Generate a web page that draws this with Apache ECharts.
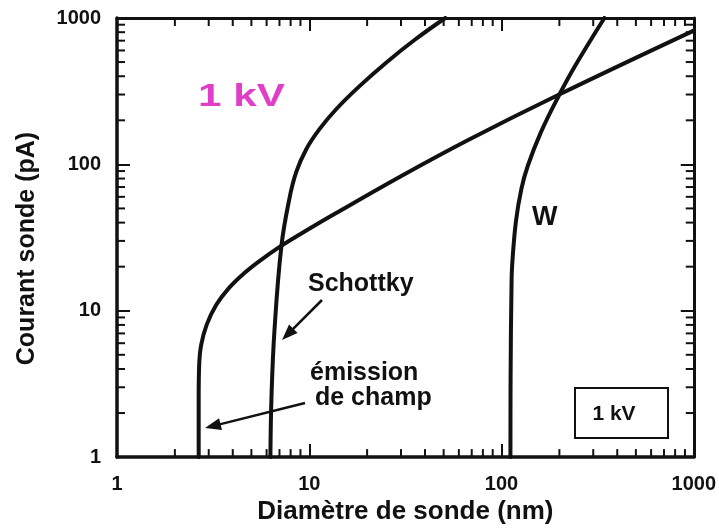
<!DOCTYPE html>
<html>
<head>
<meta charset="utf-8">
<script src="https://cdn.jsdelivr.net/npm/echarts@6/dist/echarts.min.js"></script>
<style>
  html, body { margin: 0; padding: 0; background: #fff; }
  #chart { width: 719px; height: 530px; }
</style>
</head>
<body>
<div id="chart"></div>
<script>
// Probe diameter (nm) vs probe current (pA) at 1 kV for three electron sources.
const fieldEmissionDiameter = [2.66, 2.66, 2.676, 2.741, 2.926, 3.278, 3.818, 4.583, 5.483, 7.074, 8.875, 13.8, 30.3, 67.5, 197, 1000];
const fieldEmissionCurrent  = [1, 2.56, 4.28, 5.85, 8.0, 10.93, 14.28, 18.03, 21.75, 27.5, 33.06, 46.5, 83.7, 147.4, 297.8, 820];

const schottkyDiameter = [6.28, 6.36, 6.59, 7.16, 7.88, 8.56, 9.65, 11.3, 13.8, 18.2, 25.1, 35.4, 51];
const schottkyCurrent  = [1, 2.56, 7.28, 27.5, 58.2, 88.8, 127, 174, 238, 341, 495, 710, 1000];

const tungstenDiameter = [111.3, 111.5, 112.7, 113.6, 118.8, 126.9, 136.9, 160.4, 197.7, 240.4, 342.9];
const tungstenCurrent  = [1, 3.49, 14.3, 20.4, 40.6, 68, 97.5, 166, 291, 466, 1000];

// Axis ranges and intermediate (minor) log ticks
const axisMin = 1, axisMax = 1000;
const minorTicks = [2, 3, 4, 5, 6, 7, 8, 9, 20, 30, 40, 50, 60, 70, 80, 90, 200, 300, 400, 500, 600, 700, 800, 900];

const INK = '#111';
const FONT = '"Liberation Sans", Arial, Helvetica, sans-serif';

function toPairs(xs, ys) { return xs.map((x, i) => [x, ys[i]]); }

const chart = echarts.init(document.getElementById('chart'), null, { renderer: 'canvas' });

function frameAxis(extra) {
  return Object.assign({
    type: 'log', logBase: 10, min: axisMin, max: axisMax,
    axisLine: { show: true, onZero: false, lineStyle: { color: INK, width: 3.5 } },
    axisTick: { show: true, inside: true, length: 13, lineStyle: { color: INK, width: 2 } },
    splitLine: { show: false },
    minorTick: { show: false }
  }, extra);
}

const tickLabel = {
  color: INK, fontFamily: FONT, fontWeight: 'bold', fontSize: 20,
  formatter: (v) => String(Math.round(v))
};

function curve(name, xs, ys) {
  return {
    type: 'line', name: name, data: toPairs(xs, ys),
    xAxisIndex: 0, yAxisIndex: 0,
    showSymbol: false, smooth: 0.4, silent: true,
    lineStyle: { color: INK, width: 4, cap: 'round', join: 'round' },
    z: 5
  };
}

// Short inward ticks at 2..9 of every decade, on all four sides
function minorTickSeries(dim) {
  return {
    type: 'custom', xAxisIndex: 0, yAxisIndex: 0, silent: true, clip: false, z: 4,
    data: minorTicks.map(v => dim === 'x' ? [v, axisMin] : [axisMin, v]),
    renderItem: function (params, api) {
      const cs = params.coordSys;
      const len = 8;
      const st = { stroke: INK, lineWidth: 2 };
      if (dim === 'x') {
        const px = api.coord([api.value(0), axisMin])[0];
        return { type: 'group', children: [
          { type: 'line', shape: { x1: px, y1: cs.y + cs.height, x2: px, y2: cs.y + cs.height - len }, style: st },
          { type: 'line', shape: { x1: px, y1: cs.y, x2: px, y2: cs.y + len }, style: st }
        ]};
      }
      const py = api.coord([axisMin, api.value(1)])[1];
      return { type: 'group', children: [
        { type: 'line', shape: { x1: cs.x, y1: py, x2: cs.x + len, y2: py }, style: st },
        { type: 'line', shape: { x1: cs.x + cs.width, y1: py, x2: cs.x + cs.width - len, y2: py }, style: st }
      ]};
    }
  };
}

function arrow(x1, y1, x2, y2) {
  const dx = x2 - x1, dy = y2 - y1, L = Math.hypot(dx, dy);
  const ux = dx / L, uy = dy / L, head = 16, half = 6;
  const bx = x2 - ux * head, by = y2 - uy * head;
  return [
    { type: 'line', shape: { x1: x1, y1: y1, x2: bx + ux * 2, y2: by + uy * 2 }, style: { stroke: INK, lineWidth: 2.5 } },
    { type: 'polygon', shape: { points: [[x2, y2], [bx - uy * half, by + ux * half], [bx + uy * half, by - ux * half]] }, style: { fill: INK } }
  ];
}

const annotationFont = (size) => 'bold ' + size + 'px ' + FONT;

const option = {
  backgroundColor: '#fff',
  animation: false,
  grid: { left: 117, right: 25, top: 18, bottom: 70, containLabel: false },
  xAxis: [
    frameAxis({
      position: 'bottom',
      axisLabel: Object.assign({ margin: 17 }, tickLabel),
      name: 'Diamètre de sonde (nm)', nameLocation: 'middle', nameGap: 53,
      nameTextStyle: { color: INK, fontFamily: FONT, fontWeight: 'bold', fontSize: 26, verticalAlign: 'middle' }
    }),
    frameAxis({ position: 'top', axisLine: { show: true, onZero: false, lineStyle: { color: INK, width: 3 } }, axisLabel: { show: false } })
  ],
  yAxis: [
    frameAxis({
      position: 'left',
      axisLabel: Object.assign({ margin: 16 }, tickLabel),
      name: 'Courant sonde (pA)', nameLocation: 'middle', nameGap: 90, nameRotate: 90,
      nameTextStyle: { color: INK, fontFamily: FONT, fontWeight: 'bold', fontSize: 25, verticalAlign: 'middle', padding: [0, 22, 0, 0] }
    }),
    frameAxis({ position: 'right', axisLine: { show: true, onZero: false, lineStyle: { color: INK, width: 3 } }, axisLabel: { show: false } })
  ],
  series: [
    curve('émission de champ', fieldEmissionDiameter, fieldEmissionCurrent),
    curve('Schottky', schottkyDiameter, schottkyCurrent),
    curve('W', tungstenDiameter, tungstenCurrent),
    minorTickSeries('x'),
    minorTickSeries('y')
  ],
  graphic: [
    { type: 'text', x: 198, y: 97, scaleX: 1.32, z: 10,
      style: { text: '1 kV', font: annotationFont(32), fill: '#e03ec8', align: 'left', verticalAlign: 'middle' } },
    { type: 'text', x: 532, y: 218, z: 10,
      style: { text: 'W', font: annotationFont(27), fill: INK, align: 'left', verticalAlign: 'middle' } },
    { type: 'text', x: 308, y: 284, z: 10,
      style: { text: 'Schottky', font: annotationFont(25), fill: INK, align: 'left', verticalAlign: 'middle' } },
    { type: 'text', x: 310, y: 373, z: 10,
      style: { text: 'émission', font: annotationFont(25), fill: INK, align: 'left', verticalAlign: 'middle' } },
    { type: 'text', x: 315, y: 398, z: 10,
      style: { text: 'de champ', font: annotationFont(25), fill: INK, align: 'left', verticalAlign: 'middle' } },
    { type: 'group', z: 10, children: arrow(322, 300, 282, 340) },
    { type: 'group', z: 10, children: arrow(305, 403, 205, 428) },
    { type: 'rect', z: 10, shape: { x: 575, y: 388, width: 93, height: 50 },
      style: { fill: '#fff', stroke: INK, lineWidth: 2 } },
    { type: 'text', x: 614, y: 414, z: 11,
      style: { text: '1 kV', font: annotationFont(21), fill: INK, align: 'center', verticalAlign: 'middle' } }
  ]
};

chart.setOption(option);
</script>
</body>
</html>
